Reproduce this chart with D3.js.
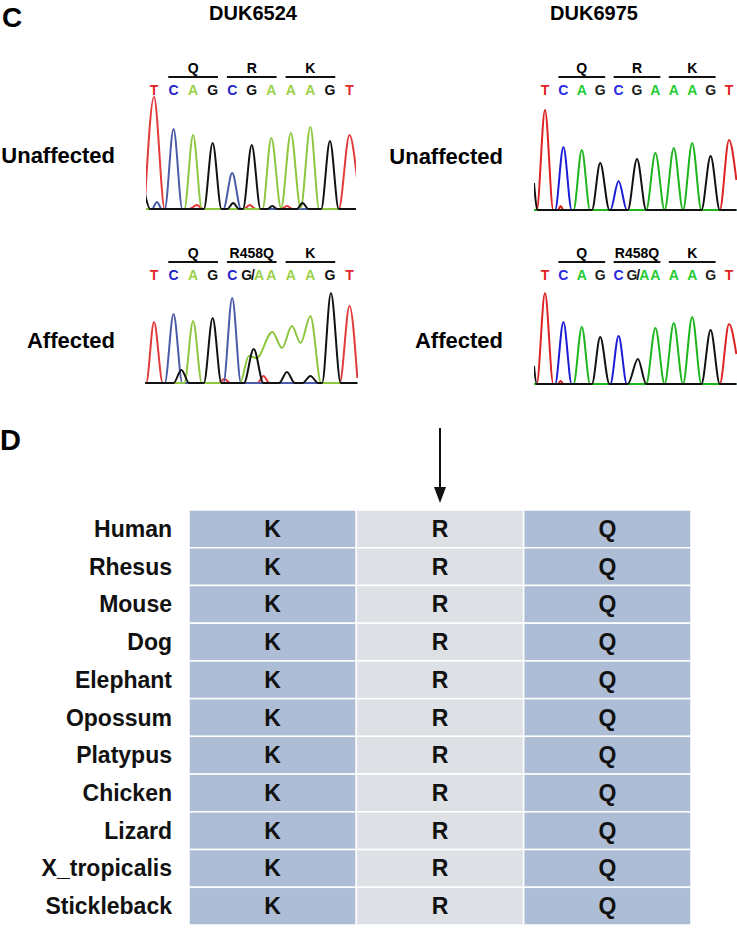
<!DOCTYPE html>
<html>
<head>
<meta charset="utf-8">
<script src="https://cdnjs.cloudflare.com/ajax/libs/d3/7.8.5/d3.min.js"></script>
<style>
  body { margin: 0; background: #fff; }
  svg text { font-family: "Liberation Sans", Arial, sans-serif; font-weight: bold; }
</style>
</head>
<body>
<div id="chart"></div>
<script>
// ---- data ----
var samples = ["DUK6524", "DUK6975"];
var groups = ["Unaffected", "Affected"];
var bases = ["T", "C", "A", "G", "C", "G", "A", "A", "A", "G", "T"];
var basesMut = ["T", "C", "A", "G", "C", "G/A", "A", "A", "A", "G", "T"];
var codons = ["Q", "R", "K"];
var codonsMut = ["Q", "R458Q", "K"];
var codonPos = [2, 5, 8];

// trace vertices [base position, signal]
var u6524_T = [[-0.45,12],[0,112],[0.55,0],[1.8,0],[2.2,4],[2.5,0],[4.6,0],[4.9,4],[5.2,0],[6.5,0],[6.8,3],[7.1,0],[9.45,0],[10,74],[10.4,28]];
var u6524_C = [[-0.45,0],[-0.1,0],[0.15,7],[0.4,0],[0.55,0],[1,80],[1.45,0],[3.55,0],[4,36],[4.45,0],[10.4,0]];
var u6524_A = [[-0.45,0],[1.55,0],[2,74],[2.45,0],[5.55,0],[6,71],[6.5,1],[7,76],[7.5,1],[8,82],[8.45,0],[10.4,0]];
var u6524_G = [[-0.45,14],[-0.2,0],[2.55,0],[3,66],[3.45,0],[3.75,0],[4.05,6],[4.35,0],[4.55,0],[5,64],[5.45,0],[5.8,0],[6.05,3],[6.3,0],[7.3,0],[7.6,6],[7.9,0],[8.55,0],[9,68],[9.45,0],[10.4,0]];

var a6524_T = [[-0.45,0],[-0.4,0],[0,61],[0.45,0],[3.3,0],[3.6,4],[3.9,0],[5.3,0],[5.6,7],[5.9,0],[9.5,0],[10,77],[10.4,5]];
var a6524_C = [[-0.45,0],[0.55,0],[1,69],[1.45,0],[3.55,0],[4,85],[4.45,0],[10.4,0]];
var a6524_A = [[-0.45,0],[1.55,0],[2,62],[2.45,0],[4.4,0],[4.85,27],[5.25,25],[6.05,51],[6.55,35],[7.05,57],[7.5,40],[8,67],[8.55,0],[10.4,0]];
var a6524_G = [[-0.45,0],[1.0,0],[1.4,13],[1.8,0],[2.55,0],[3,65],[3.45,0],[4.6,0],[5.1,34],[5.6,0],[6.4,0],[6.8,11],[7.2,0],[7.6,0],[8,7],[8.4,0],[8.6,0],[9.05,90],[9.55,0],[10.4,0]];

var u6975_T = [[-0.6,0],[-0.45,0],[0,100],[0.45,0],[0.7,0],[0.85,4],[1.0,0],[9.5,0],[10,70],[10.4,30]];
var u6975_C = [[-0.6,0],[0.55,0],[1,63],[1.45,0],[3.55,0],[4,29],[4.45,0],[10.4,0]];
var u6975_A = [[-0.6,0],[1.55,0],[2,60],[2.45,0],[5.5,0],[6,57],[6.5,0],[7,62],[7.5,0],[8,67],[8.5,0],[10.4,0]];
var u6975_G = [[-0.6,27],[-0.4,0],[2.55,0],[3,47],[3.5,0],[4.5,0],[5,51],[5.5,0],[8.5,0],[9,54],[9.5,0],[10.4,0]];

var a6975_T = [[-0.6,0],[-0.45,0],[0,91],[0.45,0],[0.7,0],[0.85,3],[1.0,0],[9.5,0],[10,60],[10.4,30]];
var a6975_C = [[-0.6,0],[0.55,0],[1,62],[1.45,0],[3.55,0],[4,48],[4.45,0],[10.4,0]];
var a6975_A = [[-0.6,0],[1.55,0],[2,57],[2.45,0],[5.5,0],[6,56],[6.5,0],[7,61],[7.5,0],[8,67],[8.5,0],[10.4,0]];
var a6975_G = [[-0.6,18],[-0.45,0],[2.55,0],[3,47],[3.5,0],[4.5,0],[5.05,25],[5.5,0],[8.5,0],[9,54],[9.5,0],[10.4,0]];

var species = ["Human", "Rhesus", "Mouse", "Dog", "Elephant", "Opossum", "Platypus", "Chicken", "Lizard", "X_tropicalis", "Stickleback"];
var residues = ["K", "R", "Q"];

// ---- layout ----
var W = 737, H = 930;
var svg = d3.select("#chart").append("svg").attr("width", W).attr("height", H);
svg.append("rect").attr("width", W).attr("height", H).attr("fill", "#fff");

var palettes = [
  { trace: { T: "#e23b3b", C: "#4b5ba8", A: "#8dc63f", G: "#111" },
    text:  { T: "#e3262a", C: "#2323c8", A: "#9bd14a", G: "#111" } },
  { trace: { T: "#dd2222", C: "#1c1cd6", A: "#1cb51c", G: "#111" },
    text:  { T: "#e02222", C: "#2a2ae0", A: "#22cc33", G: "#222" } }
];

var panels = [
  { s: 0, st: 0, x: [154, 349.5], clip: [146, 356], base: 209, top: 77, label: 163, tr: { T: u6524_T, C: u6524_C, A: u6524_A, G: u6524_G } },
  { s: 0, st: 1, x: [154, 349.5], clip: [144, 358], base: 383, top: 262, label: 348, tr: { T: a6524_T, C: a6524_C, A: a6524_A, G: a6524_G } },
  { s: 1, st: 0, x: [545, 729], clip: [534, 737], base: 210, top: 77, label: 164, tr: { T: u6975_T, C: u6975_C, A: u6975_A, G: u6975_G } },
  { s: 1, st: 1, x: [545, 729], clip: [534, 737], base: 384, top: 262, label: 348, tr: { T: a6975_T, C: a6975_C, A: a6975_A, G: a6975_G } }
];

svg.append("text").attr("x", 2).attr("y", 27).attr("font-size", 28).text("C");
svg.append("text").attr("x", 0).attr("y", 450).attr("font-size", 29).text("D");

var titleX = d3.scaleOrdinal().domain(samples).range([253, 594]);
svg.selectAll(".title").data(samples).enter().append("text")
  .attr("x", function(d) { return titleX(d); })
  .attr("y", 20)
  .attr("text-anchor", "middle")
  .attr("font-size", 20)
  .text(function(d) { return d; });

panels.forEach(function(p, i) {
  var x = d3.scaleLinear().domain([0, 10]).range(p.x);
  var y = d3.scaleLinear().domain([0, 100]).range([p.base, p.base - 100]);
  var pal = palettes[p.s];
  var labX = p.s === 0 ? 115 : 503;

  svg.append("text").attr("x", labX).attr("y", p.label)
    .attr("text-anchor", "end").attr("font-size", 22).text(groups[p.st]);

  var g = svg.append("g");
  var cl = "clip" + i;
  svg.append("clipPath").attr("id", cl).append("rect")
    .attr("x", p.clip[0]).attr("y", p.top).attr("width", p.clip[1] - p.clip[0]).attr("height", p.base - p.top + 4);

  // codon labels and bars
  var labs = p.st === 0 ? codons : codonsMut;
  codonPos.forEach(function(c, k) {
    g.append("line").attr("x1", x(c - 1.27)).attr("x2", x(c + 1.27))
      .attr("y1", p.top).attr("y2", p.top).attr("stroke", "#111").attr("stroke-width", 2);
    g.append("text").attr("x", x(c)).attr("y", p.top - 4).attr("text-anchor", "middle")
      .attr("font-size", 14).text(labs[k]);
  });

  // base letters
  var seq = p.st === 0 ? bases : basesMut;
  seq.forEach(function(b, k) {
    var t = g.append("text").attr("x", x(k)).attr("y", p.top + 18)
      .attr("text-anchor", "middle").attr("font-size", 14);
    if (b.length > 1) {
      t.attr("x", x(k + 0.02)).attr("letter-spacing", -1);
      t.append("tspan").attr("fill", pal.text.G).text("G");
      t.append("tspan").attr("fill", "#111").text("/");
      t.append("tspan").attr("fill", pal.text.A).text("A");
    } else {
      t.attr("fill", pal.text[b]).text(b);
    }
  });

  // traces
  var line = d3.line().x(function(d) { return x(d[0]); }).y(function(d) { return y(d[1]); })
    .curve(d3.curveMonotoneX);
  var tg = g.append("g").attr("clip-path", "url(#" + cl + ")");
  ["T", "C", "A", "G"].forEach(function(b) {
    tg.append("path").datum(p.tr[b]).attr("d", line)
      .attr("fill", "none").attr("stroke", pal.trace[b]).attr("stroke-width", 2)
      .attr("stroke-linejoin", "round");
  });
});

// ---- panel D table ----
var colX = d3.scaleBand().domain(residues).range([189, 691]);
var rowY = d3.scaleBand().domain(species).range([510, 925]);
var fills = { K: "#adbdd6", R: "#dde0e5", Q: "#adbdd6" };

var tbl = svg.append("g");
species.forEach(function(sp) {
  residues.forEach(function(r) {
    tbl.append("rect").attr("x", colX(r)).attr("y", rowY(sp))
      .attr("width", colX.bandwidth()).attr("height", rowY.bandwidth())
      .attr("fill", fills[r]).attr("stroke", "#fff").attr("stroke-width", 1.5);
    tbl.append("text")
      .attr("x", colX(r) + colX.bandwidth() / 2).attr("y", rowY(sp) + rowY.bandwidth() / 2 + 8)
      .attr("text-anchor", "middle").attr("font-size", 23).attr("fill", "#111").text(r);
  });
  tbl.append("text")
    .attr("x", 172).attr("y", rowY(sp) + rowY.bandwidth() / 2 + 8)
    .attr("text-anchor", "end").attr("font-size", 23).attr("fill", "#111").text(sp);
});

// arrow over the R column
var ax = colX("R") + colX.bandwidth() / 2;
svg.append("line").attr("x1", ax).attr("x2", ax).attr("y1", 428).attr("y2", 492)
  .attr("stroke", "#111").attr("stroke-width", 2);
svg.append("path").attr("d", d3.line()([[ax - 6, 487], [ax + 6, 487], [ax, 503]]) + "Z").attr("fill", "#111");
</script>
</body>
</html>
